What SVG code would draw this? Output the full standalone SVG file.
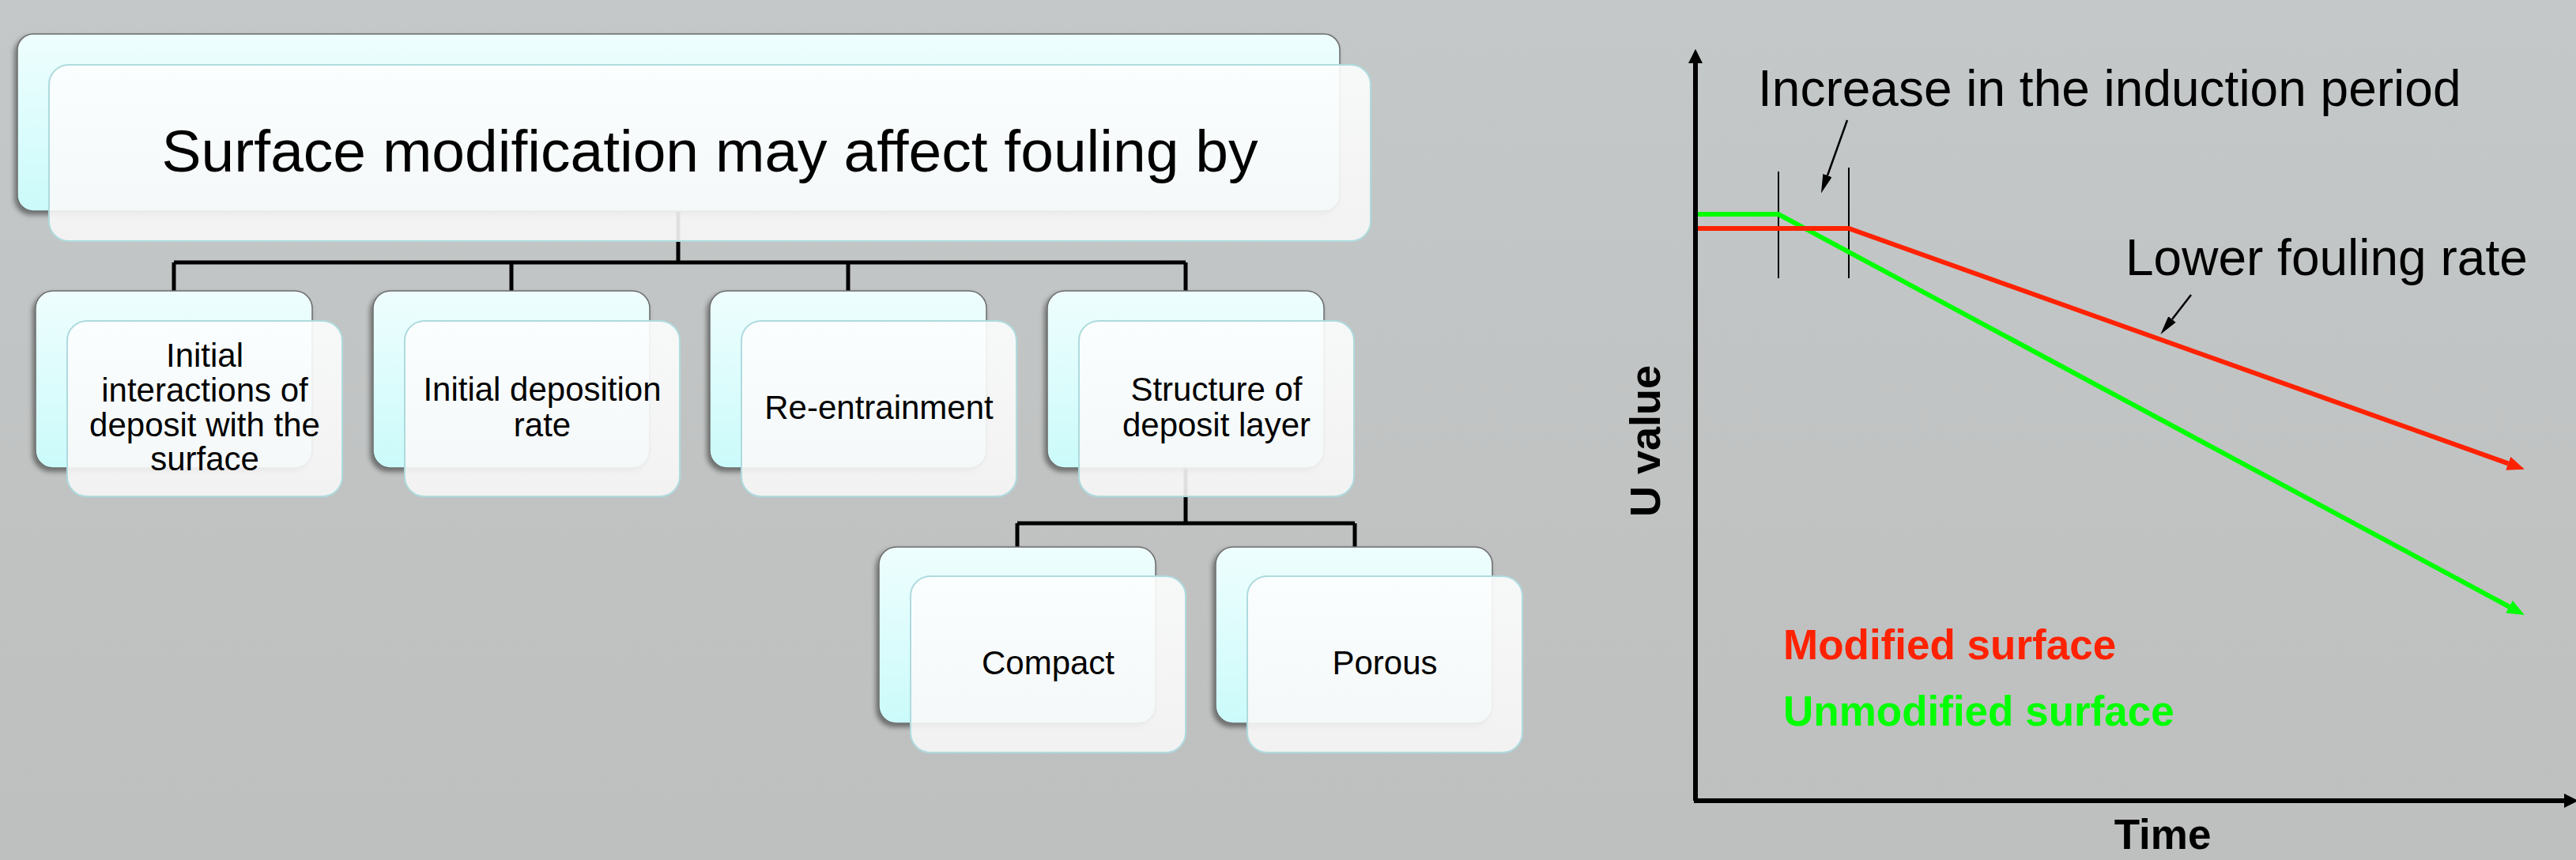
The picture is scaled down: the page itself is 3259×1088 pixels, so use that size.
<svg xmlns="http://www.w3.org/2000/svg" width="3259" height="1088" viewBox="0 0 3259 1088">
<defs>
<linearGradient id="bg" x1="0" y1="0" x2="0" y2="1"><stop offset="0" stop-color="#c4c8c8"/><stop offset="1" stop-color="#bebfbf"/></linearGradient>
<linearGradient id="backg" x1="0" y1="0" x2="0" y2="1"><stop offset="0" stop-color="#effefe"/><stop offset="1" stop-color="#cbfafa"/></linearGradient>
<linearGradient id="frontg" x1="0" y1="0" x2="0" y2="1"><stop offset="0" stop-color="#fdfefe"/><stop offset="1" stop-color="#f8f7f7"/></linearGradient>
<filter id="sh" x="-10%" y="-10%" width="120%" height="130%"><feDropShadow dx="-3" dy="4" stdDeviation="3" flood-color="#000" flood-opacity="0.45"/></filter>
<marker id="ahK" markerUnits="userSpaceOnUse" markerWidth="18" markerHeight="18" refX="0" refY="9" orient="auto"><path d="M0,0 L18,9 L0,18 z" fill="#000"/></marker>
<marker id="ahT" markerUnits="userSpaceOnUse" markerWidth="24" markerHeight="12" refX="0" refY="6" orient="auto"><path d="M0,0 L24,6 L0,12 z" fill="#000"/></marker>
<marker id="ahR" markerUnits="userSpaceOnUse" markerWidth="22" markerHeight="18" refX="0" refY="9" orient="auto"><path d="M0,0 L22,9 L0,18 z" fill="#ff2200"/></marker>
<marker id="ahG" markerUnits="userSpaceOnUse" markerWidth="22" markerHeight="18" refX="0" refY="9" orient="auto"><path d="M0,0 L22,9 L0,18 z" fill="#00ff00"/></marker>
</defs>
<style>
.back{fill:url(#backg);stroke:#6b6b6b;stroke-width:1.5;filter:url(#sh)}
.front{fill:url(#frontg);fill-opacity:0.9;stroke:#aedbde;stroke-width:2}
.t{font-family:"Liberation Sans",Arial,sans-serif;font-size:42px;fill:#000;text-anchor:middle}
.conn{fill:none;stroke:#000;stroke-width:5}
.lbl{font-family:"Liberation Sans",Arial,sans-serif;font-size:64px;fill:#000}
.b{font-family:"Liberation Sans",Arial,sans-serif;font-weight:bold;font-size:53px}
</style>
<rect x="0" y="0" width="3259" height="1088" fill="url(#bg)"/>

<g id="connectors">
<path class="conn" d="M858,267 V332 M220,332 H1500 M220,332 V368 M647,332 V368 M1073,332 V368 M1500,332 V368"/>
<path class="conn" d="M1500,592 V662 M1287,662 H1714 M1287,662 V692 M1714,662 V692"/>
</g>

<g id="node-root">
<rect class="back" x="22" y="43" width="1673" height="224" rx="20"/>
<rect class="front" x="62" y="82" width="1672" height="223" rx="25"/>
<text class="t" x="898" y="217" style="font-size:75px">Surface modification may affect fouling by</text>
</g>

<g id="node-initial-interactions">
<rect class="back" x="45" y="368" width="350" height="224" rx="22"/>
<rect class="front" x="85" y="406" width="348" height="222" rx="25"/>
<text class="t" x="259" y="464">Initial</text>
<text class="t" x="259" y="508">interactions of</text>
<text class="t" x="259" y="552">deposit with the</text>
<text class="t" x="259" y="595">surface</text>
</g>

<g id="node-initial-deposition">
<rect class="back" x="472" y="368" width="350" height="224" rx="22"/>
<rect class="front" x="512" y="406" width="348" height="222" rx="25"/>
<text class="t" x="686" y="507">Initial deposition</text>
<text class="t" x="686" y="552">rate</text>
</g>

<g id="node-reentrainment">
<rect class="back" x="898" y="368" width="350" height="224" rx="22"/>
<rect class="front" x="938" y="406" width="348" height="222" rx="25"/>
<text class="t" x="1112" y="530">Re-entrainment</text>
</g>

<g id="node-structure">
<rect class="back" x="1325" y="368" width="350" height="224" rx="22"/>
<rect class="front" x="1365" y="406" width="348" height="222" rx="25"/>
<text class="t" x="1539" y="507">Structure of</text>
<text class="t" x="1539" y="552">deposit layer</text>
</g>

<g id="node-compact">
<rect class="back" x="1112" y="692" width="350" height="223" rx="22"/>
<rect class="front" x="1152" y="729" width="348" height="223" rx="25"/>
<text class="t" x="1326" y="853">Compact</text>
</g>

<g id="node-porous">
<rect class="back" x="1538" y="692" width="350" height="223" rx="22"/>
<rect class="front" x="1578" y="729" width="348" height="223" rx="25"/>
<text class="t" x="1752" y="853">Porous</text>
</g>

<g id="chart">
<line x1="2145" y1="1013" x2="2145" y2="80" stroke="#000" stroke-width="6" marker-end="url(#ahK)"/>
<line x1="2143" y1="1013" x2="3244" y2="1013" stroke="#000" stroke-width="6" marker-end="url(#ahK)"/>
<line x1="2250" y1="217" x2="2250" y2="352" stroke="#000" stroke-width="2"/>
<line x1="2339" y1="212" x2="2339" y2="352" stroke="#000" stroke-width="2"/>
<polyline points="2148,271 2250,271 3174.4,767.5" fill="none" stroke="#00ff00" stroke-width="6" marker-end="url(#ahG)"/>
<polyline points="2148,289 2339,289 3173.2,586.3" fill="none" stroke="#ff2200" stroke-width="6" marker-end="url(#ahR)"/>
<line x1="2337" y1="152" x2="2312" y2="222" stroke="#000" stroke-width="2.5" marker-end="url(#ahT)"/>
<line x1="2772" y1="373" x2="2748" y2="404" stroke="#000" stroke-width="2.5" marker-end="url(#ahT)"/>
<text class="lbl" x="2224" y="134">Increase in the induction period</text>
<text class="lbl" x="2689" y="348">Lower fouling rate</text>
<text class="b" x="2256" y="834" fill="#ff2200">Modified surface</text>
<text class="b" x="2256" y="918" fill="#00ff00">Unmodified surface</text>
<text class="b" x="2736" y="1074" fill="#000" text-anchor="middle">Time</text>
<text class="b" x="0" y="0" fill="#000" text-anchor="middle" transform="translate(2100,558) rotate(-90)" style="font-size:54px">U value</text>
</g>
</svg>
